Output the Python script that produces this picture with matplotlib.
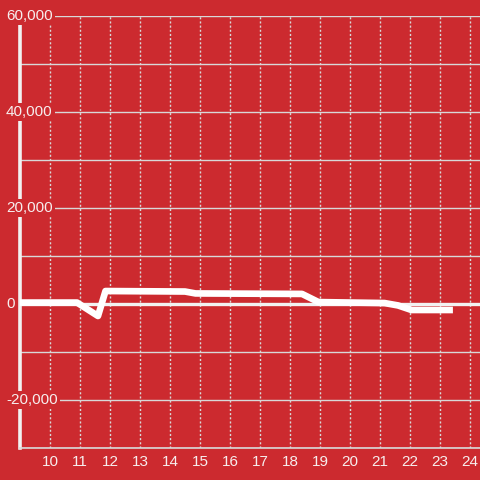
import numpy as np
import matplotlib.pyplot as plt
import matplotlib.transforms as mtransforms

# Data: -
hours = [9.0, 10.9, 11.6, 11.85, 14.5, 14.85, 18.4, 18.95, 21.15, 21.6, 22.05, 23.43]
values = [300, 300, -2500, 2700, 2600, 2200, 2100, 400, 200, -300, -1250, -1250]
x_ticks = list(range(10, 25))
y_grid = list(range(-30000, 60001, 10000))
y_labels = [-20000, 0, 20000, 40000, 60000]

bg = '#cc2a2f'
grid_col = '#d8d8d8'
text_col = '#f7eeee'

plt.rcParams['font.family'] = ['Liberation Sans', 'DejaVu Sans']

fig = plt.figure(figsize=(4.8, 4.8), dpi=100, facecolor=bg)
ax = fig.add_axes([20 / 480, 32 / 480, 460 / 480, 432 / 480])
ax.set_facecolor(bg)

ax.set_xlim(9, 24.333)
ax.set_ylim(-30000, 60000)

# grid lines: -
for y in y_grid:
    if y == 0:
        continue
    ax.axhline(y, color=grid_col, lw=1, zorder=1)
for x in x_ticks:
    ax.axvline(x, color=grid_col, lw=1, ls=(0, (1.5, 1.5)), zorder=1)
ax.axhline(0, color='#f2f2f2', lw=2.4, zorder=2)

# the series: -
ax.plot(hours, values, color='white', lw=4.8, solid_capstyle='butt',
        solid_joinstyle='round', zorder=3)

# spines: -
for s in ['top', 'right']:
    ax.spines[s].set_visible(False)
ax.spines['left'].set_color('#f2f2f2')
ax.spines['left'].set_linewidth(2.6)
ax.spines['left'].set_zorder(2)
ax.spines['bottom'].set_color(grid_col)
ax.spines['bottom'].set_linewidth(1.2)

ax.set_xticks(x_ticks)
ax.set_xticklabels([str(x) for x in x_ticks])
ax.tick_params(axis='x', length=0, pad=5, labelsize=11, labelcolor=text_col)
ax.set_yticks([])

# y labels sit inside the axes on a red box: -
trans = mtransforms.blended_transform_factory(fig.transFigure, ax.transData)
for y in y_labels:
    ax.text(6 / 480, y, f'{y:,}', transform=trans, ha='left', va='center',
            fontsize=11, color=text_col, zorder=4, clip_on=False,
            bbox=dict(facecolor=bg, edgecolor='none', pad=1.5))

fig.savefig('out.png', dpi=100, facecolor=bg)
